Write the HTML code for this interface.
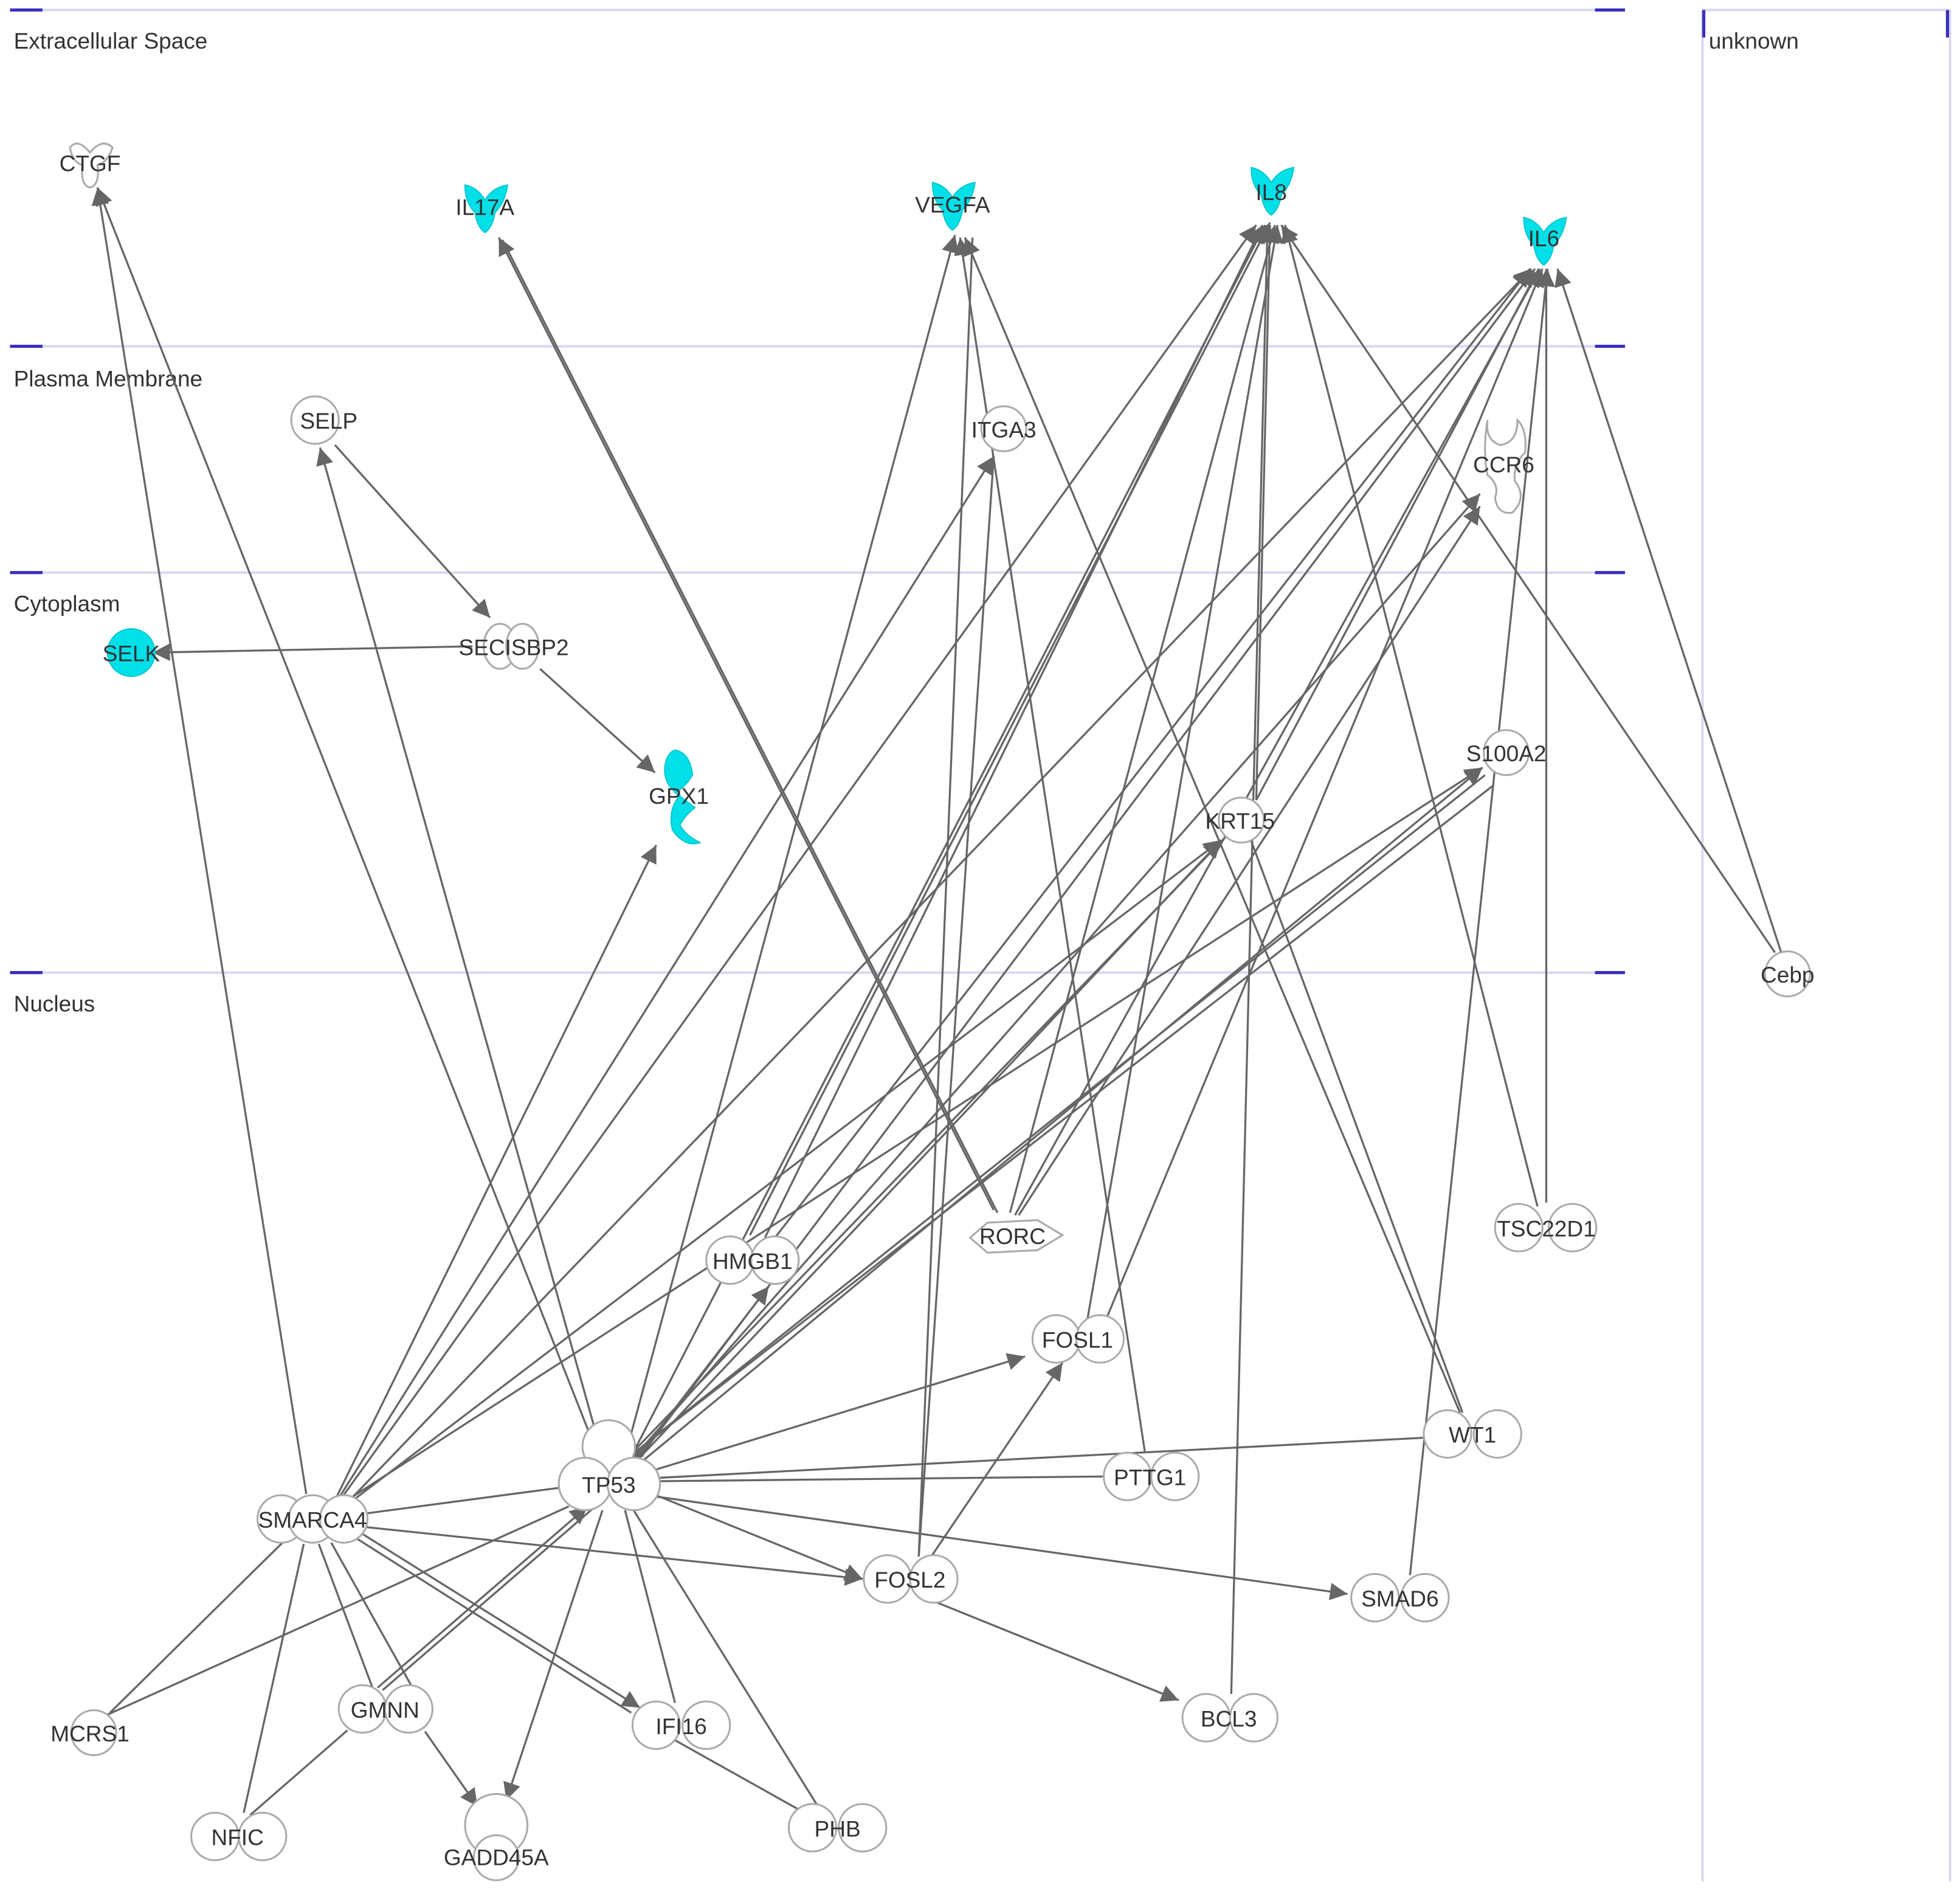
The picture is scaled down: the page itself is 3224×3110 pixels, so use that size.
<!DOCTYPE html>
<html><head><meta charset="utf-8"><style>
html,body{margin:0;padding:0;background:#fff;}
svg{display:block;}
text{font-family:"Liberation Sans",sans-serif;fill:#333;}
</style></head><body>
<svg id="s" width="3224" height="3110" viewBox="0 0 1568 1512.6" preserveAspectRatio="none" xmlns="http://www.w3.org/2000/svg">
<defs><marker id="a" viewBox="0 0 10 10" refX="10" refY="5" markerWidth="9" markerHeight="9" markerUnits="userSpaceOnUse" orient="auto"><path d="M0,0L10,5L0,10z" fill="#666"/></marker>
<marker id="ab" viewBox="0 0 10 10" refX="10" refY="5" markerWidth="14" markerHeight="14" markerUnits="userSpaceOnUse" orient="auto"><path d="M0,0L10,5L0,10z" fill="#666"/></marker></defs>
<g stroke="#d8d8f4" stroke-width="2">
<line x1="10" y1="8" x2="1300" y2="8"/><line x1="10" y1="277" x2="1300" y2="277"/><line x1="10" y1="458" x2="1300" y2="458"/><line x1="10" y1="778" x2="1300" y2="778"/>
<line x1="1362" y1="8" x2="1362" y2="1505"/><line x1="1560" y1="8" x2="1560" y2="1505"/><line x1="1362" y1="8" x2="1560" y2="8"/>
</g>
<g stroke="#3a2fc0" stroke-width="2.5">
<line x1="8" y1="8" x2="34" y2="8"/><line x1="8" y1="277" x2="34" y2="277"/><line x1="8" y1="458" x2="34" y2="458"/><line x1="8" y1="778" x2="34" y2="778"/>
<line x1="1276" y1="8" x2="1300" y2="8"/><line x1="1276" y1="277" x2="1300" y2="277"/><line x1="1276" y1="458" x2="1300" y2="458"/><line x1="1276" y1="778" x2="1300" y2="778"/>
<line x1="1363" y1="8" x2="1363" y2="30"/><line x1="1558" y1="8" x2="1558" y2="30"/>
</g>
<g font-size="18">
<text x="11" y="39">Extracellular Space</text>
<text x="11" y="309">Plasma Membrane</text>
<text x="11" y="489">Cytoplasm</text>
<text x="11" y="809">Nucleus</text>
<text x="1367" y="39">unknown</text>
</g>
<g id="edges" stroke="#666" stroke-width="1.6" fill="none"></g>
<g stroke="#aaa" stroke-width="1.5" fill="#fff">
<path d="M56,118 Q62,110 72,122 Q82,110 90,118 Q86,130 78,132 Q80,148 72,150 Q64,148 66,132 Q58,130 56,118z"/>
<circle cx="252" cy="336" r="19"/>
<circle cx="803" cy="343" r="18"/>
<path d="M1190,336 Q1188,352 1200,356 Q1214,354 1214,336 Q1222,344 1220,362 Q1210,372 1212,385 Q1222,398 1210,410 Q1198,412 1196,398 Q1200,388 1190,380 Q1186,360 1190,336z"/>
<ellipse cx="400" cy="517" rx="13" ry="18"/><ellipse cx="418" cy="517" rx="13" ry="18"/>
<circle cx="1205" cy="602" r="18"/>
<circle cx="993" cy="656" r="18"/>
<circle cx="1430" cy="779" r="18"/>
<circle cx="584" cy="1008" r="19"/><circle cx="620" cy="1008" r="19"/>
<path d="M776,990 L790,978 L830,976 L850,988 L830,1000 L790,1002z"/>
<circle cx="1215" cy="982" r="19"/><circle cx="1258" cy="982" r="19"/>
<circle cx="845" cy="1071" r="19"/><circle cx="880" cy="1071" r="19"/>
<circle cx="487" cy="1157" r="21"/>
<circle cx="468" cy="1187" r="21"/><circle cx="507" cy="1187" r="21"/>
<circle cx="1158" cy="1147" r="19"/><circle cx="1198" cy="1147" r="19"/>
<circle cx="902" cy="1181" r="19"/><circle cx="940" cy="1181" r="19"/>
<circle cx="225" cy="1215" r="19"/><circle cx="250" cy="1215" r="19"/><circle cx="275" cy="1215" r="19"/>
<circle cx="710" cy="1263" r="19"/><circle cx="747" cy="1263" r="19"/>
<circle cx="1100" cy="1278" r="19"/><circle cx="1140" cy="1278" r="19"/>
<circle cx="75" cy="1386" r="18"/>
<circle cx="290" cy="1367" r="19"/><circle cx="327" cy="1367" r="19"/>
<circle cx="525" cy="1380" r="19"/><circle cx="565" cy="1380" r="19"/>
<circle cx="965" cy="1374" r="19"/><circle cx="1003" cy="1374" r="19"/>
<circle cx="172" cy="1469" r="19"/><circle cx="210" cy="1469" r="19"/>
<circle cx="397" cy="1460" r="25"/><circle cx="397" cy="1486" r="18"/>
<circle cx="650" cy="1462" r="19"/><circle cx="690" cy="1462" r="19"/>
</g>
<g fill="#00e0e8" stroke="#00c8d0" stroke-width="1">
<path d="M372,148 Q382,150 388,160 Q394,150 406,148 Q404,162 396,170 Q394,182 388,186 Q382,182 380,170 Q372,162 372,148z"/>
<path d="M746,146 Q756,148 762,158 Q768,148 780,146 Q778,160 770,168 Q768,180 762,184 Q756,180 754,168 Q746,160 746,146z"/>
<path d="M1001,134 Q1011,136 1017,146 Q1023,136 1035,134 Q1033,148 1025,156 Q1023,168 1017,172 Q1011,168 1009,156 Q1001,148 1001,134z"/>
<path d="M1219,174 Q1229,176 1235,186 Q1241,176 1253,174 Q1251,188 1243,196 Q1241,208 1235,212 Q1229,208 1227,196 Q1219,188 1219,174z"/>
<circle cx="105" cy="522" r="19"/>
<path d="M540,600 Q552,602 554,620 Q548,630 540,634 Q548,640 556,646 Q548,652 544,660 Q548,668 560,674 Q548,678 538,664 Q534,648 544,636 Q530,628 532,612 Q534,602 540,600z"/>
</g>
<g id="edges2" stroke="#666" stroke-width="1.6" fill="none"></g>
<g font-size="18" text-anchor="middle">
<text x="72" y="137">CTGF</text>
<text x="388" y="172">IL17A</text>
<text x="762" y="170">VEGFA</text>
<text x="1017" y="160">IL8</text>
<text x="1235" y="197">IL6</text>
<text x="263" y="343">SELP</text>
<text x="803" y="350">ITGA3</text>
<text x="1203" y="378">CCR6</text>
<text x="105" y="529">SELK</text>
<text x="411" y="524">SECISBP2</text>
<text x="543" y="643">GPX1</text>
<text x="1205" y="609">S100A2</text>
<text x="992" y="663">KRT15</text>
<text x="1430" y="786">Cebp</text>
<text x="602" y="1015">HMGB1</text>
<text x="810" y="995">RORC</text>
<text x="1237" y="989">TSC22D1</text>
<text x="862" y="1078">FOSL1</text>
<text x="487" y="1194">TP53</text>
<text x="1178" y="1154">WT1</text>
<text x="920" y="1188">PTTG1</text>
<text x="250" y="1222">SMARCA4</text>
<text x="728" y="1270">FOSL2</text>
<text x="1120" y="1285">SMAD6</text>
<text x="72" y="1393">MCRS1</text>
<text x="308" y="1374">GMNN</text>
<text x="545" y="1387">IFI16</text>
<text x="983" y="1381">BCL3</text>
<text x="190" y="1476">NFIC</text>
<text x="397" y="1492">GADD45A</text>
<text x="670" y="1469">PHB</text>
</g>
<script>
var P={CTGF:[78,150],IL17A:[399,190],VEGFA:[764,188],IL8:[1016,178],IL6:[1236,215],SELP:[256,358],ITGA3:[795,365],CCR6:[1184,395],SELK:[122,522],SECISBP2:[392,494],GPX1:[524,618],GPX1b:[525,676],S100A2:[1186,614],KRT15:[977,672],HMGB1:[615,1029],TP53:[500,1168],WT1:[1140,1150],FOSL1:[820,1085],FOSL1b:[850,1090],FOSL2:[690,1263],SMAD6:[1078,1275]};
var E=[
[[245,1195],'CTGF',1],[[480,1168],'CTGF',1],[[482,1165],'SELP',1],[[268,356],'SECISBP2',1],[[378,517],'SELK',1],[[432,535],'GPX1',1],
[[268,1200],'GPX1b',1],[[795,968],'IL17A',1],[[798,970],[402,192],0],[[500,1165],'VEGFA',1],[[916,1162],[768,190],1],[[1168,1130],[772,190],1],
[[270,1200],'ITGA3',1],[[735,1245],[778,190],0],[[735,1245],'ITGA3',0],
[[600,988],'IL8',1],[[612,990],[1010,180],1],[[272,1200],[1005,180],1],[[505,1165],[1012,180],1],[[808,970],[1020,180],1],[[870,1055],[1022,180],1],[[985,1355],[1014,180],1],[[1005,640],[1016,180],0],[[1420,762],[1025,180],1],[[1230,965],[1028,180],1],
[[275,1205],[1225,215],1],[[510,1168],[1228,215],1],[[812,972],[1232,215],1],[[885,1055],[1234,215],1],[[1128,1260],[1238,215],1],[[1237,962],[1237,215],1],[[1425,762],[1246,215],1],[[620,990],[1224,215],1],[[1005,640],[1231,215],0],
[[505,1168],'CCR6',1],[[815,972],[1184,405],1],[[270,1205],'S100A2',1],[[510,1172],'S100A2',1],[[272,1208],'KRT15',1],[[508,1170],'KRT15',1],
[[1188,620],'TP53',1],[[980,670],'TP53',1],[[1195,628],'TP53',1],[[1170,1130],[1000,670],0],
[[505,1172],'HMGB1',1],[[510,1180],'FOSL1',1],[[745,1245],'FOSL1b',1],[[510,1190],'FOSL2',1],[[278,1220],'FOSL2',1],[[510,1195],'SMAD6',1],
[[510,1183],'WT1',0],[[510,1185],[885,1181],0],[[282,1212],[448,1190],0],[[85,1372],[455,1205],0],[[88,1370],[228,1232],0],[[195,1450],[243,1235],0],[[200,1452],[278,1384],0],[[302,1350],[470,1205],1],[[306,1352],[474,1207],0],[[255,1235],[298,1350],0],[[265,1234],[330,1350],0],[[340,1385],[382,1445],1],[[282,1222],[512,1366],1],[[278,1226],[505,1370],0],[[500,1208],[540,1362],0],[[540,1392],[640,1448],0],[[505,1205],[655,1446],0],[[482,1208],[405,1440],1],[[745,1280],[943,1360],1]
];
var g=document.getElementById('edges'),ns='http://www.w3.org/2000/svg';
E.forEach(function(e){var a=typeof e[0]=='string'?P[e[0]]:e[0],b=typeof e[1]=='string'?P[e[1]]:e[1];
var l=document.createElementNS(ns,'line');l.setAttribute('x1',a[0]);l.setAttribute('y1',a[1]);l.setAttribute('x2',b[0]);l.setAttribute('y2',b[1]);
if(e[2])l.setAttribute('marker-end','url(#ab)');g.appendChild(l);});
</script>
</svg>
</body></html>
